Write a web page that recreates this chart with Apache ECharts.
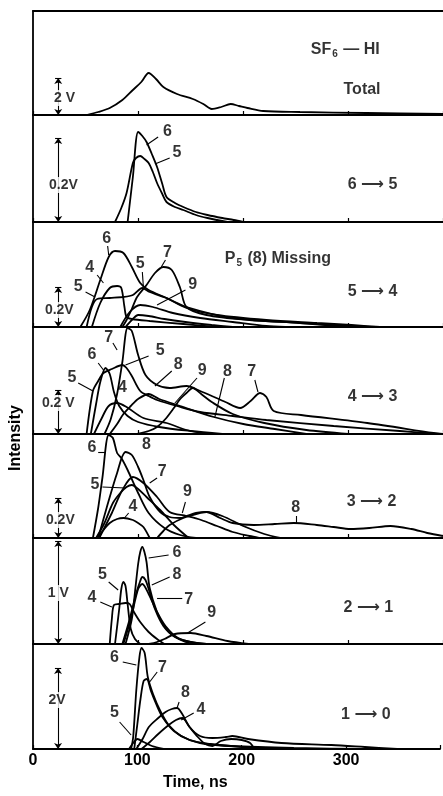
<!DOCTYPE html>
<html><head><meta charset="utf-8">
<script src="https://cdn.jsdelivr.net/npm/echarts@6/dist/echarts.min.js"></script>
<style>html,body{margin:0;padding:0;background:#fff}#c{width:443px;height:796px}</style>
</head><body><div id="c"></div>
<script>
// ---- x axis (Time, ns) ----
const xTickLabels = ['0', '100', '200', '300'];
const xMax = 390;

// ---- Panel 1: SF6-HI Total ----
const p1Total = [[51,0],[62,3],[73,7],[85,15],[95,25],[103,33],[110,42],[117,36],[124,28],[137,21],[152,16],[162,11],[170,6],[179,8],[188,11],[196,9],[204,7],[219,4],[254,3],[317,2],[390,1]];

// ---- Panel 2: 6 -> 5 ----
const p2_6 = [[90,0],[95,45],[100,90],[104,86],[108,80],[113,68],[118,55],[123,38],[127,25],[135,19],[143,15],[155,10],[166,7],[180,4],[191,2],[200,0]];
const p2_5 = [[78,0],[84,14],[89,29],[95,59],[98,64],[102,66],[106,63],[110,59],[114,50],[118,39],[123,28],[127,20],[135,15],[143,12],[155,7],[166,4],[185,0]];

// ---- Panel 3: 5 -> 4 ----
const p3_6 = [[45,0],[54,17],[64,47],[72,70],[78,76],[86,74],[94,60],[102,44],[110,37],[127,29],[146,19],[175,12],[222,7],[270,4],[303,2],[330,0]];
const p3_7 = [[85,0],[89,7],[94,18],[99,30],[108,42],[116,54],[124,60],[132,57],[140,39],[146,20],[165,12],[206,7],[254,4],[290,1],[310,0]];
const p3_5 = [[51,0],[56,20],[61,28],[73,29],[86,30],[95,32],[104,39],[111,35],[127,29],[146,20],[190,9],[254,4],[303,1],[320,0]];
const p3_4 = [[56,0],[64,24],[73,39],[80,41],[84,39],[87,20],[89,10],[94,8],[111,6],[143,3],[175,0]];
const p3_9 = [[83,0],[92,15],[102,22],[114,20],[133,14],[159,9],[190,5],[222,1],[240,0]];
const p3_low = [[88,0],[95,8],[100,12],[110,11],[125,8],[145,5],[170,2],[190,0]];

// ---- Panel 4: 4 -> 3 ----
const p4_7 = [[68,0],[74,15],[80,40],[85,72],[90,106],[94,103],[100,79],[107,59],[118,49],[130,46],[146,48],[159,43],[168,39],[183,32],[197,26],[207,33],[216,41],[222,37],[229,23],[255,19],[318,11],[381,1],[390,0]];
const p4_5 = [[51,0],[57,43],[62,53],[67,61],[75,65],[85,69],[89,66],[94,58],[102,43],[110,38],[118,34],[137,28],[159,22],[190,18],[222,14],[286,8],[349,3],[387,0]];
const p4_6 = [[55,0],[60,30],[64,52],[69,66],[73,60],[77,42],[82,28],[90,18],[100,12],[120,7],[150,3],[180,0]];
const p4_4 = [[58,0],[65,15],[72,28],[80,31],[89,27],[105,16],[127,11],[146,4],[165,0]];
const p4_8 = [[73,0],[80,10],[86,20],[93,28],[100,35],[110,40],[120,35],[140,28],[172,17],[200,10],[230,5],[260,0]];
const p4_9 = [[99,0],[110,3],[118,7],[126,15],[134,26],[140,35],[146,41],[152,46],[160,40],[170,32],[190,20],[220,11],[260,4],[300,0]];

// ---- Panel 5: 3 -> 2 ----
const p5_6 = [[57,0],[62,30],[66,60],[72,103],[76,100],[80,85],[84,80],[90,68],[100,45],[110,25],[125,10],[140,3],[155,0]];
const p5_8 = [[62,0],[70,30],[80,65],[88,86],[94,83],[100,71],[105,58],[111,41],[121,26],[130,21],[140,20],[146,22],[155,25],[165,26],[178,20],[190,15],[210,13],[230,14],[248,15],[270,13],[286,11],[302,9],[320,10],[340,12],[360,9],[375,5],[390,2]];
const p5_7 = [[63,0],[75,25],[85,48],[95,61],[105,55],[118,41],[130,26],[146,22],[160,18],[175,12],[190,6],[206,2],[215,0]];
const p5_5 = [[60,0],[68,15],[76,35],[83,45],[89,51],[94,53],[100,49],[108,41],[121,28],[134,13],[148,0]];
const p5_4 = [[61,0],[67,8],[73,15],[80,19],[86,20],[95,18],[100,15],[105,11],[111,0]];
const p5_9 = [[118,0],[124,7],[130,13],[143,20],[159,25],[165,26],[180,22],[200,12],[220,4],[235,0]];

// ---- Panel 6: 2 -> 1 ----
const p6_6 = [[88,0],[94,25],[97,52],[100,80],[102,92],[104,97],[106,92],[108,82],[111,56],[118,32],[126,16],[134,8],[145,2],[155,0]];
const p6_5 = [[78,0],[82,35],[84,55],[86,62],[88,58],[90,40],[93,15],[97,5],[102,0]];
const p6_4 = [[73,0],[75,25],[77,39],[82,40],[88,41],[92,40],[96,32],[102,22],[110,12],[118,5],[125,0]];
const p6_8 = [[85,0],[92,25],[98,50],[102,63],[104,67],[107,64],[110,55],[116,35],[124,18],[135,7],[150,2],[165,0]];
const p6_7 = [[86,0],[93,25],[100,55],[104,60],[110,50],[118,32],[126,18],[138,6],[155,1],[165,0]];
const p6_9 = [[110,0],[118,2],[125,5],[135,10],[150,11],[165,8],[185,3],[205,0]];

// ---- Panel 7: 1 -> 0 ----
const p7_6 = [[94,0],[96,12],[99,59],[102,92],[104,101],[107,96],[110,72],[115,55],[122,38],[130,24],[142,13],[160,6],[190,3],[250,1],[330,0]];
const p7_7 = [[97,0],[100,25],[103,50],[106,68],[109,70],[113,58],[118,45],[124,32],[135,18],[150,9],[170,5],[200,2],[240,0]];
const p7_8 = [[99,0],[105,10],[111,22],[120,31],[127,37],[133,40],[138,41],[143,35],[150,22],[160,13],[172,11],[185,12],[191,13],[206,10],[238,6],[286,4],[318,2],[349,0]];
const p7_4 = [[104,0],[112,7],[120,15],[130,24],[137,29],[143,31],[150,22],[158,12],[165,5],[172,3],[180,8],[190,10],[200,9],[208,6],[212,0]];
const p7_5 = [[92,0],[96,6],[100,10],[106,7],[114,3],[125,0]];

// ---- annotation texts: [time, height, text] ({s|..} = subscript) ----
const p1Labels = [[297,65,'SF{s|6} — HI'],[313,25,'Total']];
const p2Labels = [[128,90,'6'],[137,69,'5'],[323,37,'6 ⟶ 5']];
const p3Labels = [[70,88,'6'],[54,59,'4'],[43,40,'5'],[102,63,'5'],[128,74,'7'],[152,42,'9'],[233,68,'P{s|5} (8) Missing'],[323,35,'5 ⟶ 4']];
const p4Labels = [[72,96,'7'],[56,79,'6'],[37,56,'5'],[121,83,'5'],[85,46,'4'],[138,69,'8'],[161,63,'9'],[185,62,'8'],[208,62,'7'],[323,37,'4 ⟶ 3']];
const p5Labels = [[56,90,'6'],[108,93,'8'],[59,53,'5'],[123,66,'7'],[95,31,'4'],[147,46,'9'],[250,30,'8'],[322,36,'3 ⟶ 2']];
const p6Labels = [[137,91,'6'],[66,69,'5'],[137,69,'8'],[56,46,'4'],[148,44,'7'],[170,31,'9'],[319,36,'2 ⟶ 1']];
const p7Labels = [[78,91,'6'],[124,81,'7'],[78,36,'5'],[146,56,'8'],[161,39,'4'],[319,34,'1 ⟶ 0']];

// ---- leader lines: [t1,h1,t2,h2] ----
const p2Leaders = [[119,85,108,77],[130,64,116,58]];
const p3Leaders = [[71,81,72,72],[61,52,67,44],[50,35,59,30],[104,55,105,40],[126,67,122,60],[145,37,118,22]];
const p4Leaders = [[76,91,80,84],[62,71,67,64],[43,51,57,43],[110,78,88,69],[132,63,116,48],[156,56,135,31],[182,56,173,17],[211,54,214,42]];
const p5Leaders = [[62,86,69,86],[66,51,88,50],[118,60,111,55],[91,25,87,20],[145,36,142,25],[250,22,250,15]];
const p6Leaders = [[129,89,110,86],[72,62,81,54],[130,67,113,59],[64,42,75,37],[142,46,118,46],[164,22,147,11]];
const p7Leaders = [[86,87,99,84],[119,77,111,66],[83,27,94,14],[140,47,138,41],[154,36,142,29]];

// ---- scale bars: [time, top height, label, labelTime, labelHeight] ----
const scaleBars = [
  [24,37,'2 V',30,17],
  [24,84,'0.2V',29,37],
  [24,40,'0.2V',25,17],
  [24,44,'0.2 V',24,31],
  [24,40,'0.2V',26,18],
  [24,103,'1 V',24,51],
  [24,81,'2V',23,49]
];

const panelLayout = [
  {top:11, h:104}, {top:115, h:107}, {top:222, h:105}, {top:327, h:107},
  {top:434, h:104}, {top:538, h:106}, {top:644, h:105}
];
const panelSeries = [
  [['Total',p1Total]],
  [['6',p2_6],['5',p2_5]],
  [['6',p3_6],['7',p3_7],['5',p3_5],['4',p3_4],['9',p3_9],['other',p3_low]],
  [['7',p4_7],['5',p4_5],['6',p4_6],['4',p4_4],['8',p4_8],['9',p4_9]],
  [['6',p5_6],['8',p5_8],['7',p5_7],['5',p5_5],['4',p5_4],['9',p5_9]],
  [['6',p6_6],['5',p6_5],['4',p6_4],['8',p6_8],['7',p6_7],['9',p6_9]],
  [['6',p7_6],['7',p7_7],['8',p7_8],['4',p7_4],['5',p7_5]]
];
const panelLabels = [p1Labels,p2Labels,p3Labels,p4Labels,p5Labels,p6Labels,p7Labels];
const panelLeaders = [[],p2Leaders,p3Leaders,p4Leaders,p5Leaders,p6Leaders,p7Leaders];

const FONT = '"Liberation Sans", "DejaVu Sans", sans-serif';
const grid = [], xAxis = [], yAxis = [], series = [];
panelLayout.forEach((p, i) => {
  grid.push({left:33, right:0, top:p.top, height:p.h});
  xAxis.push({
    gridIndex:i, type:'value', min:0, max:xMax, interval:100,
    axisLine:{show:true, onZero:false, lineStyle:{color:'#000', width:1.8}},
    axisTick:{show:true, inside:true, length:4, lineStyle:{color:'#000', width:1.2}},
    axisLabel:{show:i===6, color:'#000', fontFamily:FONT, fontWeight:'bold', fontSize:16, margin:4,
      formatter:(v)=>{const k=Math.round(v/100); return xTickLabels[k]!==undefined && v%100===0 ? xTickLabels[k] : '';}},
    splitLine:{show:false}
  });
  yAxis.push({
    gridIndex:i, type:'value', min:0, max:p.h,
    axisLine:{show:true, onZero:false, lineStyle:{color:'#000', width:1.8}},
    axisTick:{show:false}, axisLabel:{show:false}, splitLine:{show:false}
  });
  panelSeries[i].forEach(([name, data]) => {
    series.push({
      type:'line', name:name, xAxisIndex:i, yAxisIndex:i, data:data,
      symbol:'none', showSymbol:false, smooth:0.3, clip:false, silent:true,
      lineStyle:{color:'#000', width:1.8}, z:3
    });
  });
  const sb = scaleBars[i];
  const mlData = panelLeaders[i].map(l => [{coord:[l[0],l[1]]},{coord:[l[2],l[3]]}]);
  mlData.push([{coord:[sb[0],sb[1]], symbol:'arrow', symbolSize:[6,6]},{coord:[sb[0],0], symbol:'arrow', symbolSize:[6,6]}]);
  mlData.push([{coord:[sb[0]-3,sb[1]]},{coord:[sb[0]+3,sb[1]]}]);
  series.push({
    type:'scatter', xAxisIndex:i, yAxisIndex:i, data:[], silent:true, z:2,
    markLine:{silent:true, symbol:'none', animation:false, label:{show:false},
      lineStyle:{color:'#000', width:1.1, type:'solid'}, data:mlData}
  });
  const labelData = panelLabels[i].map(l => ({value:[l[0],l[1]], name:l[2]}));
  labelData.push({value:[sb[3],sb[4]], name:sb[2], label:{backgroundColor:'#fff', fontSize:14, padding:[1,0]}});
  series.push({
    type:'scatter', xAxisIndex:i, yAxisIndex:i, data:labelData, silent:true, z:6,
    symbol:'circle', symbolSize:1, itemStyle:{color:'rgba(0,0,0,0)'},
    label:{show:true, position:'inside', formatter:'{b}', color:'#000', fontFamily:FONT, fontWeight:'bold', fontSize:16,
      rich:{s:{fontSize:10, fontWeight:'bold', fontFamily:FONT, color:'#000', padding:[8,1,0,1]}}}
  });
});
xAxis.push({gridIndex:0, type:'value', min:0, max:xMax, position:'top',
  axisLine:{show:true, onZero:false, lineStyle:{color:'#000', width:1.8}},
  axisTick:{show:false}, axisLabel:{show:false}, splitLine:{show:false}});

const chart = echarts.init(document.getElementById('c'), null, {renderer:'canvas'});
chart.setOption({
  animation:false,
  backgroundColor:'#fff',
  grid, xAxis, yAxis, series,
  graphic:[
    {type:'text', left:163, top:775, style:{text:'Time, ns', fill:'#000', font:'bold 16px "Liberation Sans", sans-serif'}},
    {type:'text', x:8, y:471, rotation:Math.PI/2, style:{text:'Intensity', fill:'#000', font:'bold 16px "Liberation Sans", sans-serif'}}
  ]
});
</script></body></html>
